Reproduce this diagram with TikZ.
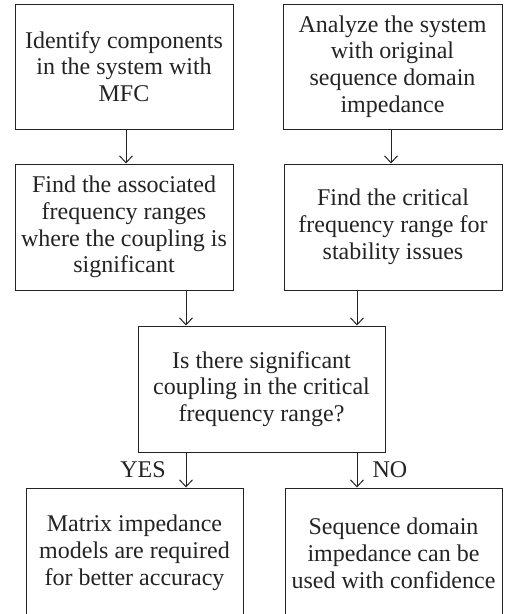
\documentclass[tikz,border=0pt]{standalone}
\usepackage{fontspec}
\setmainfont{Liberation Serif}
\usetikzlibrary{arrows.meta}
\definecolor{ink}{RGB}{35,35,35}
\tikzset{
  box/.style={draw=ink, line width=1pt, text=ink, align=center, inner sep=0pt,
    font=\fontsize{24}{26.8}\selectfont},
  arr/.style={draw=ink, line width=1pt, -{Straight Barb[length=7pt,width=13pt]}},
  lbl/.style={text=ink, font=\fontsize{24}{26.8}\selectfont, inner sep=0pt}
}
\begin{document}
\begin{tikzpicture}[x=1pt,y=-1pt]
  \useasboundingbox (0,0) rectangle (505,614);
  \clip (0,0) rectangle (505,614);

  % first row
  \node[box, minimum width=218pt, minimum height=125pt] (b1) at (124,66.5)
    {Identify components\\in the system with\\MFC};
  \node[box, minimum width=219pt, minimum height=125pt] (b2) at (392.5,66.5)
    {Analyze the system\\with original\\sequence domain\\impedance};

  % second row
  \node[box, minimum width=218pt, minimum height=126pt] (b3) at (124,227)
    {Find the associated\\frequency ranges\\where the coupling is\\significant};
  \node[box, minimum width=218pt, minimum height=126pt] (b4) at (393,227)
    {Find the critical\\frequency range for\\stability issues};

  % decision
  \node[box, minimum width=247pt, minimum height=126pt] (b5) at (261.5,389)
    {Is there significant\\coupling in the critical\\frequency range?};

  % outcomes
  \node[box, minimum width=217pt, minimum height=130pt] (b6) at (134.5,553)
    {Matrix impedance\\models are required\\for better accuracy};
  \node[box, minimum width=217pt, minimum height=130pt] (b7) at (393.5,553)
    {Sequence domain\\impedance can be\\used with confidence};

  % vertical guide lines for the connectors
  \coordinate (cl) at (186,0);
  \coordinate (cr) at (357,0);
  \coordinate (c1) at (126,0);
  \coordinate (c2) at (391,0);

  \draw[arr] (b1.south -| c1) -- (b3.north -| c1);
  \draw[arr] (b2.south -| c2) -- (b4.north -| c2);
  \draw[arr] (b3.south -| cl) -- (b5.north -| cl);
  \draw[arr] (b4.south -| cr) -- (b5.north -| cr);
  \draw[arr] (b5.south -| cl) -- (b6.north -| cl);
  \draw[arr] (b5.south -| cr) -- (b7.north -| cr);

  \node[lbl] (yes) at (143,470) {YES};
  \node[lbl] (no) at (390,470) {NO};
\end{tikzpicture}
\end{document}
